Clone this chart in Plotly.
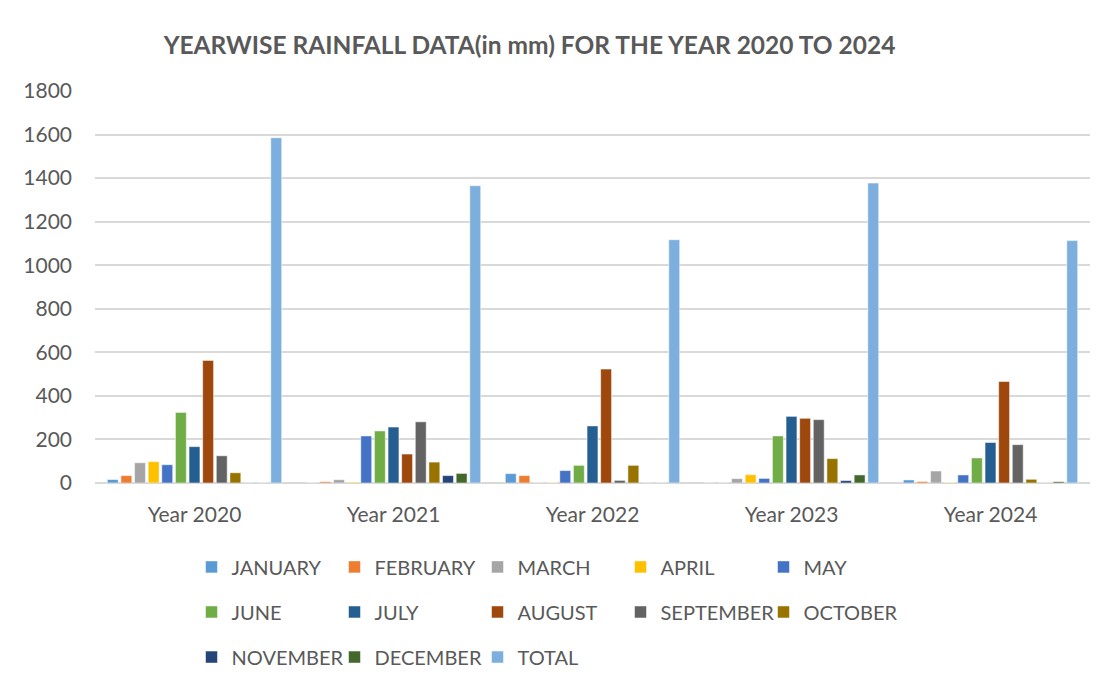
import plotly.graph_objects as go

years = ["Year 2020", "Year 2021", "Year 2022", "Year 2023", "Year 2024"]
months = ["JANUARY", "FEBRUARY", "MARCH", "APRIL", "MAY", "JUNE", "JULY",
          "AUGUST", "SEPTEMBER", "OCTOBER", "NOVEMBER", "DECEMBER", "TOTAL"]

january = [16, 0, 43, 0, 14]
february = [34, 6, 34, 0, 7]
march = [93, 15, 0, 20, 55]
april = [98, 4, 2, 38, 2]
may = [84, 216, 57, 21, 37]
june = [324, 239, 81, 216, 115]
july = [167, 257, 262, 306, 186]
august = [563, 133, 523, 297, 466]
september = [125, 281, 12, 291, 176]
october = [47, 96, 81, 112, 17]
november = [0, 34, 0, 11, 0]
december = [0, 44, 0, 37, 6]
total = [1585, 1365, 1117, 1377, 1113]

series = [january, february, march, april, may, june, july, august,
          september, october, november, december, total]
colors = ["#5B9BD5", "#ED7D31", "#A5A5A5", "#FFC000", "#4472C4", "#70AD47",
          "#255E91", "#9E480E", "#636363", "#997300", "#264478", "#43682B",
          "#7CAFDD"]

FONT = "Lato, Liberation Sans, sans-serif"
TXT = "#595959"

fig = go.Figure()
for i, (name, vals, col) in enumerate(zip(months, series, colors)):
    leg = "legend" if i < 5 else ("legend2" if i < 10 else "legend3")
    fig.add_trace(go.Bar(
        x=years, y=vals, name=name, legend=leg,
        marker=dict(color=col, line=dict(color="rgba(255,255,255,0.5)", width=1)),
    ))

legend_common = dict(orientation="h", entrywidth=98, entrywidthmode="pixels",
                     font=dict(family=FONT, size=20, color=TXT),
                     bgcolor="rgba(0,0,0,0)", xanchor="left", yanchor="middle",
                     x=0.097, itemclick=False)

fig.update_layout(
    width=1112, height=690,
    paper_bgcolor="white", plot_bgcolor="white",
    margin=dict(l=87, r=30, t=83, b=215),
    barmode="group", bargap=0.11, bargroupgap=0.2,
    title=dict(text="<b>YEARWISE RAINFALL DATA(in mm) FOR THE YEAR 2020 TO 2024</b>",
               x=0.469, xanchor="center", y=0.946, yanchor="middle",
               font=dict(family=FONT, size=24.5, color=TXT)),
    xaxis=dict(tickfont=dict(family=FONT, size=21, color=TXT), showgrid=False,
               showline=False, ticks="", ticklabelstandoff=17),
    yaxis=dict(range=[0, 1800], dtick=200, tickfont=dict(family=FONT, size=21, color=TXT),
               gridcolor="#D9D9D9", gridwidth=1.5, zeroline=True, zerolinecolor="#D9D9D9",
               zerolinewidth=1.5, ticks="", ticklabelstandoff=22),
    legend=dict(legend_common, y=-0.214),
    legend2=dict(legend_common, y=-0.329),
    legend3=dict(legend_common, y=-0.444),
    showlegend=True,
)
fig.add_shape(type="rect", xref="paper", yref="paper", x0=-0.0925, x1=1.018, y0=-0.6, y1=1.2245,
              line=dict(color="#D9D9D9", width=1), layer="below")

fig.write_html("out.html")
